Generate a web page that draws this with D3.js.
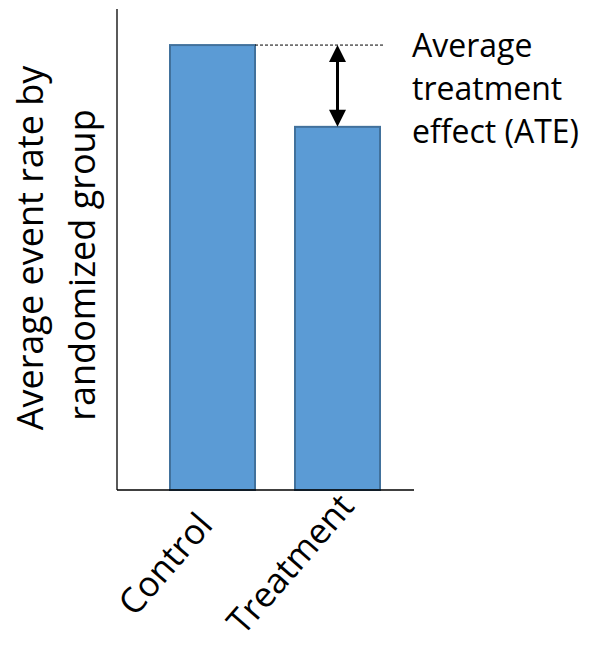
<!DOCTYPE html>
<html>
<head>
<meta charset="utf-8">
<script src="https://cdn.jsdelivr.net/npm/d3@7"></script>
<style>
  html, body { margin: 0; padding: 0; background: #fff; }
  svg { display: block; }
  text { font-family: "Open Sans", "Noto Sans", sans-serif; fill: #000; }
</style>
</head>
<body>
<script>
// Groups and their average event rates (arbitrary units, axis is unlabeled)
const groups = ["Control", "Treatment"];
const rates = [0.925, 0.755];
const yLabelLines = ["Average event rate by", "randomized group"];
const ateLabelLines = ["Average", "treatment", "effect (ATE)"];

const W = 589, H = 648;
const x0 = 117, x1 = 414, yTop = 9, yBase = 490;

const svg = d3.select("body").append("svg").attr("width", W).attr("height", H);

const x = d3.scaleBand().domain(groups).range([120, 430]).paddingInner(0.32).paddingOuter(0.4);
const y = d3.scaleLinear().domain([0, 1]).range([yBase, yTop]);

// Bars
svg.selectAll("rect.bar").data(groups).join("rect")
  .attr("class", "bar")
  .attr("x", d => x(d))
  .attr("width", x.bandwidth())
  .attr("y", (d, i) => y(rates[i]))
  .attr("height", (d, i) => y(0) - y(rates[i]))
  .attr("fill", "#5B9BD5")
  .attr("stroke", "#41719C")
  .attr("stroke-width", 2);

// Axes (plain lines, no ticks)
svg.append("line").attr("x1", x0).attr("x2", x0).attr("y1", yTop).attr("y2", yBase)
  .attr("stroke", "#000").attr("stroke-width", 1.3);
svg.append("line").attr("x1", x0).attr("x2", x1).attr("y1", yBase).attr("y2", yBase)
  .attr("stroke", "#000").attr("stroke-width", 1.3);

// Dashed reference at the control level
const ctrlY = y(rates[0]), trtY = y(rates[1]);
svg.append("line")
  .attr("x1", x("Control") + x.bandwidth()).attr("x2", x("Treatment") + x.bandwidth() + 3)
  .attr("y1", ctrlY).attr("y2", ctrlY)
  .attr("stroke", "#000").attr("stroke-width", 1).attr("stroke-dasharray", "3,2");

// Double-headed arrow for the treatment effect
const ax = x("Treatment") + x.bandwidth() / 2;
const head = 17, half = 8.5;
svg.append("line").attr("x1", ax).attr("x2", ax)
  .attr("y1", ctrlY + head - 1).attr("y2", trtY - head + 1)
  .attr("stroke", "#000").attr("stroke-width", 3);
svg.append("path")
  .attr("d", `M${ax},${ctrlY} L${ax - half},${ctrlY + head} L${ax + half},${ctrlY + head} Z`)
  .attr("fill", "#000");
svg.append("path")
  .attr("d", `M${ax},${trtY} L${ax - half},${trtY - head} L${ax + half},${trtY - head} Z`)
  .attr("fill", "#000");

// ATE annotation
svg.append("text")
  .attr("x", 412).attr("y", 57)
  .style("font-size", "32px")
  .selectAll("tspan").data(ateLabelLines).join("tspan")
  .attr("x", 412).attr("dy", (d, i) => i === 0 ? 0 : 43)
  .text(d => d);

// Category labels, rotated about their midpoints
svg.selectAll("text.cat").data(groups).join("text")
  .attr("class", "cat")
  .attr("text-anchor", "middle")
  .style("font-size", "35px")
  .attr("transform", d => `translate(${x(d) + x.bandwidth() / 2 - 38},${yBase + 82}) rotate(-49)`)
  .text(d => d);

// Y-axis title
svg.append("text")
  .attr("text-anchor", "middle")
  .attr("transform", "translate(0,248) rotate(-90)")
  .style("font-size", "36px")
  .selectAll("tspan").data(yLabelLines).join("tspan")
  .attr("x", (d, i) => i === 0 ? 0 : -17).attr("y", (d, i) => 43 + i * 52)
  .text(d => d);
</script>
</body>
</html>
